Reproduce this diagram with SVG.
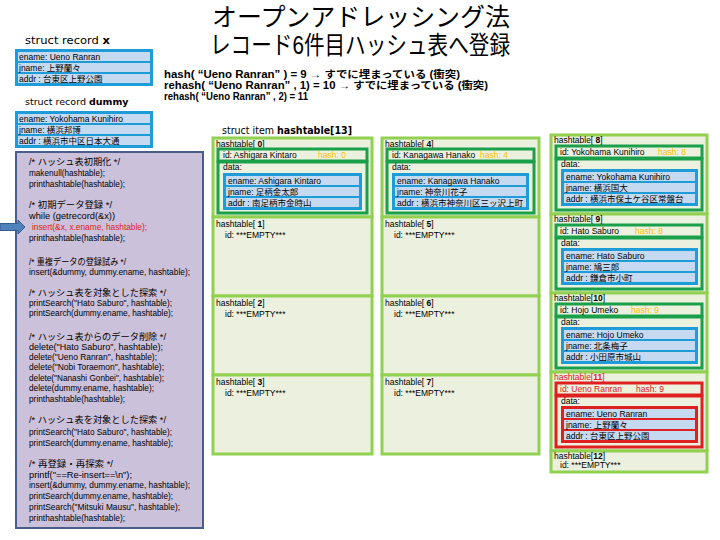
<svg xmlns="http://www.w3.org/2000/svg" width="720" height="540" viewBox="0 0 720 540">
<defs>
<style>
.cell{fill:#ebf1de;stroke:#92d050;stroke-width:3}
.gbox{fill:#ebf1de;stroke:#1aa04a;stroke-width:3}
.rbox{fill:#ebf1de;stroke:#e02020;stroke-width:3}
.rec{fill:#1e9cd7}
.recr{fill:#e02020}
.row{fill:#c5d9f1}
.t{font-family:"Liberation Sans","Noto Sans CJK JP",sans-serif;font-size:8.5px;fill:#000}
.c{font-family:"Liberation Sans","Noto Sans CJK JP",sans-serif;font-size:9px;fill:#000}
.hs{fill:#ffc000}
.red{fill:#e02020}
.b{font-weight:bold}
.decl{font-family:"DejaVu Sans","Noto Sans CJK JP",sans-serif;font-size:10.5px;fill:#000}
.hl{font-family:"Liberation Sans","Noto Sans CJK JP",sans-serif;font-size:10px;font-weight:bold;fill:#000}
.title{font-family:"Liberation Sans","Noto Sans CJK JP",sans-serif;font-size:25px;fill:#000}
</style>
</defs>
<rect width="720" height="540" fill="#ffffff"/>

<g id="title">
<text class="title" x="212" y="26" textLength="298" lengthAdjust="spacingAndGlyphs">オープンアドレッシング法</text>
<text class="title" x="210" y="54" textLength="300" lengthAdjust="spacingAndGlyphs">レコード6件目ハッシュ表へ登録</text>
</g>

<g id="hash-lines">
<text class="hl" x="164" y="77.5" textLength="296" lengthAdjust="spacingAndGlyphs">hash( “Ueno Ranran” ) = 9 → すでに埋まっている (衝突)</text>
<text class="hl" x="164" y="88.5" textLength="324" lengthAdjust="spacingAndGlyphs">rehash( “Ueno Ranran” , 1) = 10 → すでに埋まっている (衝突)</text>
<text class="hl" x="164" y="99.5" textLength="144" lengthAdjust="spacingAndGlyphs">rehash( “Ueno Ranran” , 2) = 11</text>
</g>

<g id="record-x">
<text class="decl" x="25" y="44" textLength="85" lengthAdjust="spacingAndGlyphs">struct record <tspan class="b">x</tspan></text>
<rect class="rec" x="15" y="49" width="138" height="37"/>
<rect class="row" x="18" y="52" width="132" height="9"/>
<rect class="row" x="18" y="63" width="132" height="9"/>
<rect class="row" x="18" y="74" width="132" height="9"/>
<text class="t" x="19" y="59.5">ename: Ueno Ranran</text>
<text class="t" x="19" y="70.5">jname: 上野蘭々</text>
<text class="t" x="19" y="81.5">addr : 台東区上野公園</text>
</g>

<g id="record-dummy">
<text class="decl" x="25" y="105" style="font-size:9.5px">struct record <tspan class="b">dummy</tspan></text>
<rect class="rec" x="15" y="111" width="138" height="37"/>
<rect class="row" x="18" y="114" width="132" height="9"/>
<rect class="row" x="18" y="125" width="132" height="9"/>
<rect class="row" x="18" y="136" width="132" height="9"/>
<text class="t" x="19" y="121.5">ename: Yokohama Kunihiro</text>
<text class="t" x="19" y="132.5">jname: 横浜邦博</text>
<text class="t" x="19" y="143.5">addr : 横浜市中区日本大通</text>
</g>

<g id="code">
<rect x="16" y="152" width="187" height="376" fill="#ccc1da" stroke="#4a5d8a" stroke-width="2"/>
<text class="c" x="29" y="165" textLength="91" lengthAdjust="spacingAndGlyphs">/* ハッシュ表初期化 */</text>
<text class="c" x="29" y="176" textLength="76" lengthAdjust="spacingAndGlyphs">makenull(hashtable);</text>
<text class="c" x="29" y="187" textLength="96" lengthAdjust="spacingAndGlyphs">printhashtable(hashtable);</text>
<text class="c" x="29" y="208" textLength="83" lengthAdjust="spacingAndGlyphs">/* 初期データ登録 */</text>
<text class="c" x="29" y="219" textLength="86" lengthAdjust="spacingAndGlyphs">while (getrecord(&amp;x))</text>
<text class="c red" x="32" y="230" textLength="115" lengthAdjust="spacingAndGlyphs">insert(&amp;x, x.ename, hashtable);</text>
<text class="c" x="29" y="241" textLength="96" lengthAdjust="spacingAndGlyphs">printhashtable(hashtable);</text>
<text class="c" x="29" y="265" textLength="97" lengthAdjust="spacingAndGlyphs">/* 重複データの登録試み */</text>
<text class="c" x="29" y="275" textLength="161" lengthAdjust="spacingAndGlyphs">insert(&amp;dummy, dummy.ename, hashtable);</text>
<text class="c" x="29" y="296" textLength="137" lengthAdjust="spacingAndGlyphs">/* ハッシュ表を対象とした探索 */</text>
<text class="c" x="29" y="306" textLength="143" lengthAdjust="spacingAndGlyphs">printSearch("Hato Saburo", hashtable);</text>
<text class="c" x="29" y="316" textLength="144" lengthAdjust="spacingAndGlyphs">printSearch(dummy.ename, hashtable);</text>
<text class="c" x="29" y="340" textLength="137" lengthAdjust="spacingAndGlyphs">/* ハッシュ表からのデータ削除 */</text>
<text class="c" x="29" y="350" textLength="134" lengthAdjust="spacingAndGlyphs">delete("Hato Saburo", hashtable);</text>
<text class="c" x="29" y="360" textLength="128" lengthAdjust="spacingAndGlyphs">delete("Ueno Ranran", hashtable);</text>
<text class="c" x="29" y="370" textLength="135" lengthAdjust="spacingAndGlyphs">delete("Nobi Toraemon", hashtable);</text>
<text class="c" x="29" y="381" textLength="135" lengthAdjust="spacingAndGlyphs">delete("Nanashi Gonbei", hashtable);</text>
<text class="c" x="29" y="391" textLength="125" lengthAdjust="spacingAndGlyphs">delete(dummy.ename, hashtable);</text>
<text class="c" x="29" y="402" textLength="96" lengthAdjust="spacingAndGlyphs">printhashtable(hashtable);</text>
<text class="c" x="29" y="423" textLength="137" lengthAdjust="spacingAndGlyphs">/* ハッシュ表を対象とした探索 */</text>
<text class="c" x="29" y="435" textLength="143" lengthAdjust="spacingAndGlyphs">printSearch("Hato Saburo", hashtable);</text>
<text class="c" x="29" y="446" textLength="144" lengthAdjust="spacingAndGlyphs">printSearch(dummy.ename, hashtable);</text>
<text class="c" x="29" y="467" textLength="84" lengthAdjust="spacingAndGlyphs">/* 再登録・再探索 */</text>
<text class="c" x="29" y="478" textLength="103" lengthAdjust="spacingAndGlyphs">printf("==Re-insert==\n");</text>
<text class="c" x="29" y="488" textLength="161" lengthAdjust="spacingAndGlyphs">insert(&amp;dummy, dummy.ename, hashtable);</text>
<text class="c" x="29" y="499" textLength="144" lengthAdjust="spacingAndGlyphs">printSearch(dummy.ename, hashtable);</text>
<text class="c" x="29" y="510" textLength="151" lengthAdjust="spacingAndGlyphs">printSearch("Mitsuki Mausu", hashtable);</text>
<text class="c" x="29" y="521" textLength="96" lengthAdjust="spacingAndGlyphs">printhashtable(hashtable);</text>
</g>

<g id="connectors">
<polygon points="0,223.5 18,223.5 18,220 25,227 18,234 18,230.5 0,230.5" fill="#4f81bd" stroke="#385d8a" stroke-width="1"/>
</g>

<g id="hashtable-decl">
<text class="decl" x="222" y="134" textLength="130" lengthAdjust="spacingAndGlyphs">struct item <tspan class="b">hashtable[13]</tspan></text>
</g>

<!-- column 1 -->
<g id="ht0">
<rect class="cell" x="213" y="138" width="159" height="79"/>
<text class="t" x="216" y="147">hashtable[ <tspan class="b">0</tspan>]</text>
<rect class="gbox" x="218" y="149" width="149" height="12"/>
<text class="t" x="223" y="158">id: Ashigara Kintaro</text>
<text class="t hs" x="318" y="158">hash: 0</text>
<rect class="gbox" x="218" y="162" width="149" height="51"/>
<text class="t" x="223" y="170">data:</text>
<rect class="rec" x="223" y="173" width="139" height="37"/>
<rect class="row" x="226" y="176" width="133" height="9"/>
<rect class="row" x="226" y="187" width="133" height="9"/>
<rect class="row" x="226" y="198" width="133" height="9"/>
<text class="t" x="228" y="183.5">ename: Ashigara Kintaro</text>
<text class="t" x="228" y="194.5">jname: 足柄金太郎</text>
<text class="t" x="228" y="205.5">addr : 南足柄市金時山</text>
</g>
<g id="ht1">
<rect class="cell" x="213" y="217" width="159" height="79"/>
<text class="t" x="216" y="227">hashtable[ <tspan class="b">1</tspan>]</text>
<text class="t" x="225" y="238">id: ***EMPTY***</text>
</g>
<g id="ht2">
<rect class="cell" x="213" y="296" width="159" height="79"/>
<text class="t" x="216" y="306">hashtable[ <tspan class="b">2</tspan>]</text>
<text class="t" x="225" y="317">id: ***EMPTY***</text>
</g>
<g id="ht3">
<rect class="cell" x="213" y="375" width="159" height="79"/>
<text class="t" x="216" y="385">hashtable[ <tspan class="b">3</tspan>]</text>
<text class="t" x="225" y="396">id: ***EMPTY***</text>
</g>

<!-- column 2 -->
<g id="ht4">
<rect class="cell" x="382" y="138" width="157" height="79"/>
<text class="t" x="385" y="147">hashtable[ <tspan class="b">4</tspan>]</text>
<rect class="gbox" x="387" y="149" width="147" height="12"/>
<text class="t" x="392" y="158">id: Kanagawa Hanako</text>
<text class="t hs" x="480" y="158">hash: 4</text>
<rect class="gbox" x="387" y="162" width="147" height="51"/>
<text class="t" x="392" y="170">data:</text>
<rect class="rec" x="392" y="173" width="137" height="37"/>
<rect class="row" x="395" y="176" width="131" height="9"/>
<rect class="row" x="395" y="187" width="131" height="9"/>
<rect class="row" x="395" y="198" width="131" height="9"/>
<text class="t" x="397" y="183.5">ename: Kanagawa Hanako</text>
<text class="t" x="397" y="194.5">jname: 神奈川花子</text>
<text class="t" x="397" y="205.5">addr : 横浜市神奈川区三ッ沢上町</text>
</g>
<g id="ht5">
<rect class="cell" x="382" y="217" width="157" height="79"/>
<text class="t" x="385" y="227">hashtable[ <tspan class="b">5</tspan>]</text>
<text class="t" x="394" y="238">id: ***EMPTY***</text>
</g>
<g id="ht6">
<rect class="cell" x="382" y="296" width="157" height="79"/>
<text class="t" x="385" y="306">hashtable[ <tspan class="b">6</tspan>]</text>
<text class="t" x="394" y="317">id: ***EMPTY***</text>
</g>
<g id="ht7">
<rect class="cell" x="382" y="375" width="157" height="79"/>
<text class="t" x="385" y="385">hashtable[ <tspan class="b">7</tspan>]</text>
<text class="t" x="394" y="396">id: ***EMPTY***</text>
</g>

<!-- column 3 -->
<g id="ht8">
<rect class="cell" x="551" y="135" width="156" height="79"/>
<text class="t" x="554" y="143">hashtable[ <tspan class="b">8</tspan>]</text>
<rect class="gbox" x="556" y="146" width="146" height="12"/>
<text class="t" x="560" y="155">id: Yokohama Kunihiro</text>
<text class="t hs" x="658" y="155">hash: 8</text>
<rect class="gbox" x="556" y="159" width="146" height="51"/>
<text class="t" x="561" y="167">data:</text>
<rect class="rec" x="561" y="169" width="137" height="37"/>
<rect class="row" x="564" y="172" width="131" height="9"/>
<rect class="row" x="564" y="183" width="131" height="9"/>
<rect class="row" x="564" y="194" width="131" height="9"/>
<text class="t" x="566" y="179.5">ename: Yokohama Kunihiro</text>
<text class="t" x="566" y="190.5">jname: 横浜国大</text>
<text class="t" x="566" y="201.5">addr : 横浜市保土ケ谷区常盤台</text>
</g>
<g id="ht9">
<rect class="cell" x="551" y="214" width="156" height="79"/>
<text class="t" x="554" y="222">hashtable[ <tspan class="b">9</tspan>]</text>
<rect class="gbox" x="556" y="225" width="146" height="12"/>
<text class="t" x="560" y="234">id: Hato Saburo</text>
<text class="t hs" x="635" y="234">hash: 8</text>
<rect class="gbox" x="556" y="238" width="146" height="51"/>
<text class="t" x="561" y="246">data:</text>
<rect class="rec" x="561" y="248" width="137" height="37"/>
<rect class="row" x="564" y="251" width="131" height="9"/>
<rect class="row" x="564" y="262" width="131" height="9"/>
<rect class="row" x="564" y="273" width="131" height="9"/>
<text class="t" x="566" y="258.5">ename: Hato Saburo</text>
<text class="t" x="566" y="269.5">jname: 鳩三郎</text>
<text class="t" x="566" y="280.5">addr : 鎌倉市小町</text>
</g>
<g id="ht10">
<rect class="cell" x="551" y="293" width="156" height="79"/>
<text class="t" x="554" y="301">hashtable[<tspan class="b">10</tspan>]</text>
<rect class="gbox" x="556" y="304" width="146" height="12"/>
<text class="t" x="560" y="313">id: Hojo Umeko</text>
<text class="t hs" x="631" y="313">hash: 9</text>
<rect class="gbox" x="556" y="317" width="146" height="51"/>
<text class="t" x="561" y="325">data:</text>
<rect class="rec" x="561" y="327" width="137" height="37"/>
<rect class="row" x="564" y="330" width="131" height="9"/>
<rect class="row" x="564" y="341" width="131" height="9"/>
<rect class="row" x="564" y="352" width="131" height="9"/>
<text class="t" x="566" y="337.5">ename: Hojo Umeko</text>
<text class="t" x="566" y="348.5">jname: 北条梅子</text>
<text class="t" x="566" y="359.5">addr : 小田原市城山</text>
</g>
<g id="ht11">
<rect class="cell" x="551" y="372" width="156" height="79"/>
<text class="t red" x="554" y="380">hashtable[<tspan class="b">11</tspan>]</text>
<rect class="rbox" x="556" y="383" width="146" height="12"/>
<text class="t red" x="560" y="392">id: Ueno Ranran</text>
<text class="t red" x="636" y="392">hash: 9</text>
<rect class="rbox" x="556" y="396" width="146" height="51"/>
<text class="t" x="561" y="404">data:</text>
<rect class="recr" x="561" y="406" width="137" height="37"/>
<rect class="row" x="564" y="409" width="131" height="9"/>
<rect class="row" x="564" y="420" width="131" height="9"/>
<rect class="row" x="564" y="431" width="131" height="9"/>
<text class="t" x="566" y="416.5">ename: Ueno Ranran</text>
<text class="t" x="566" y="427.5">jname: 上野蘭々</text>
<text class="t" x="566" y="438.5">addr : 台東区上野公園</text>
</g>
<g id="ht12">
<rect class="cell" x="551" y="451" width="156" height="21"/>
<text class="t" x="554" y="459">hashtable[<tspan class="b">12</tspan>]</text>
<text class="t" x="560" y="468">id: ***EMPTY***</text>
</g>
</svg>
